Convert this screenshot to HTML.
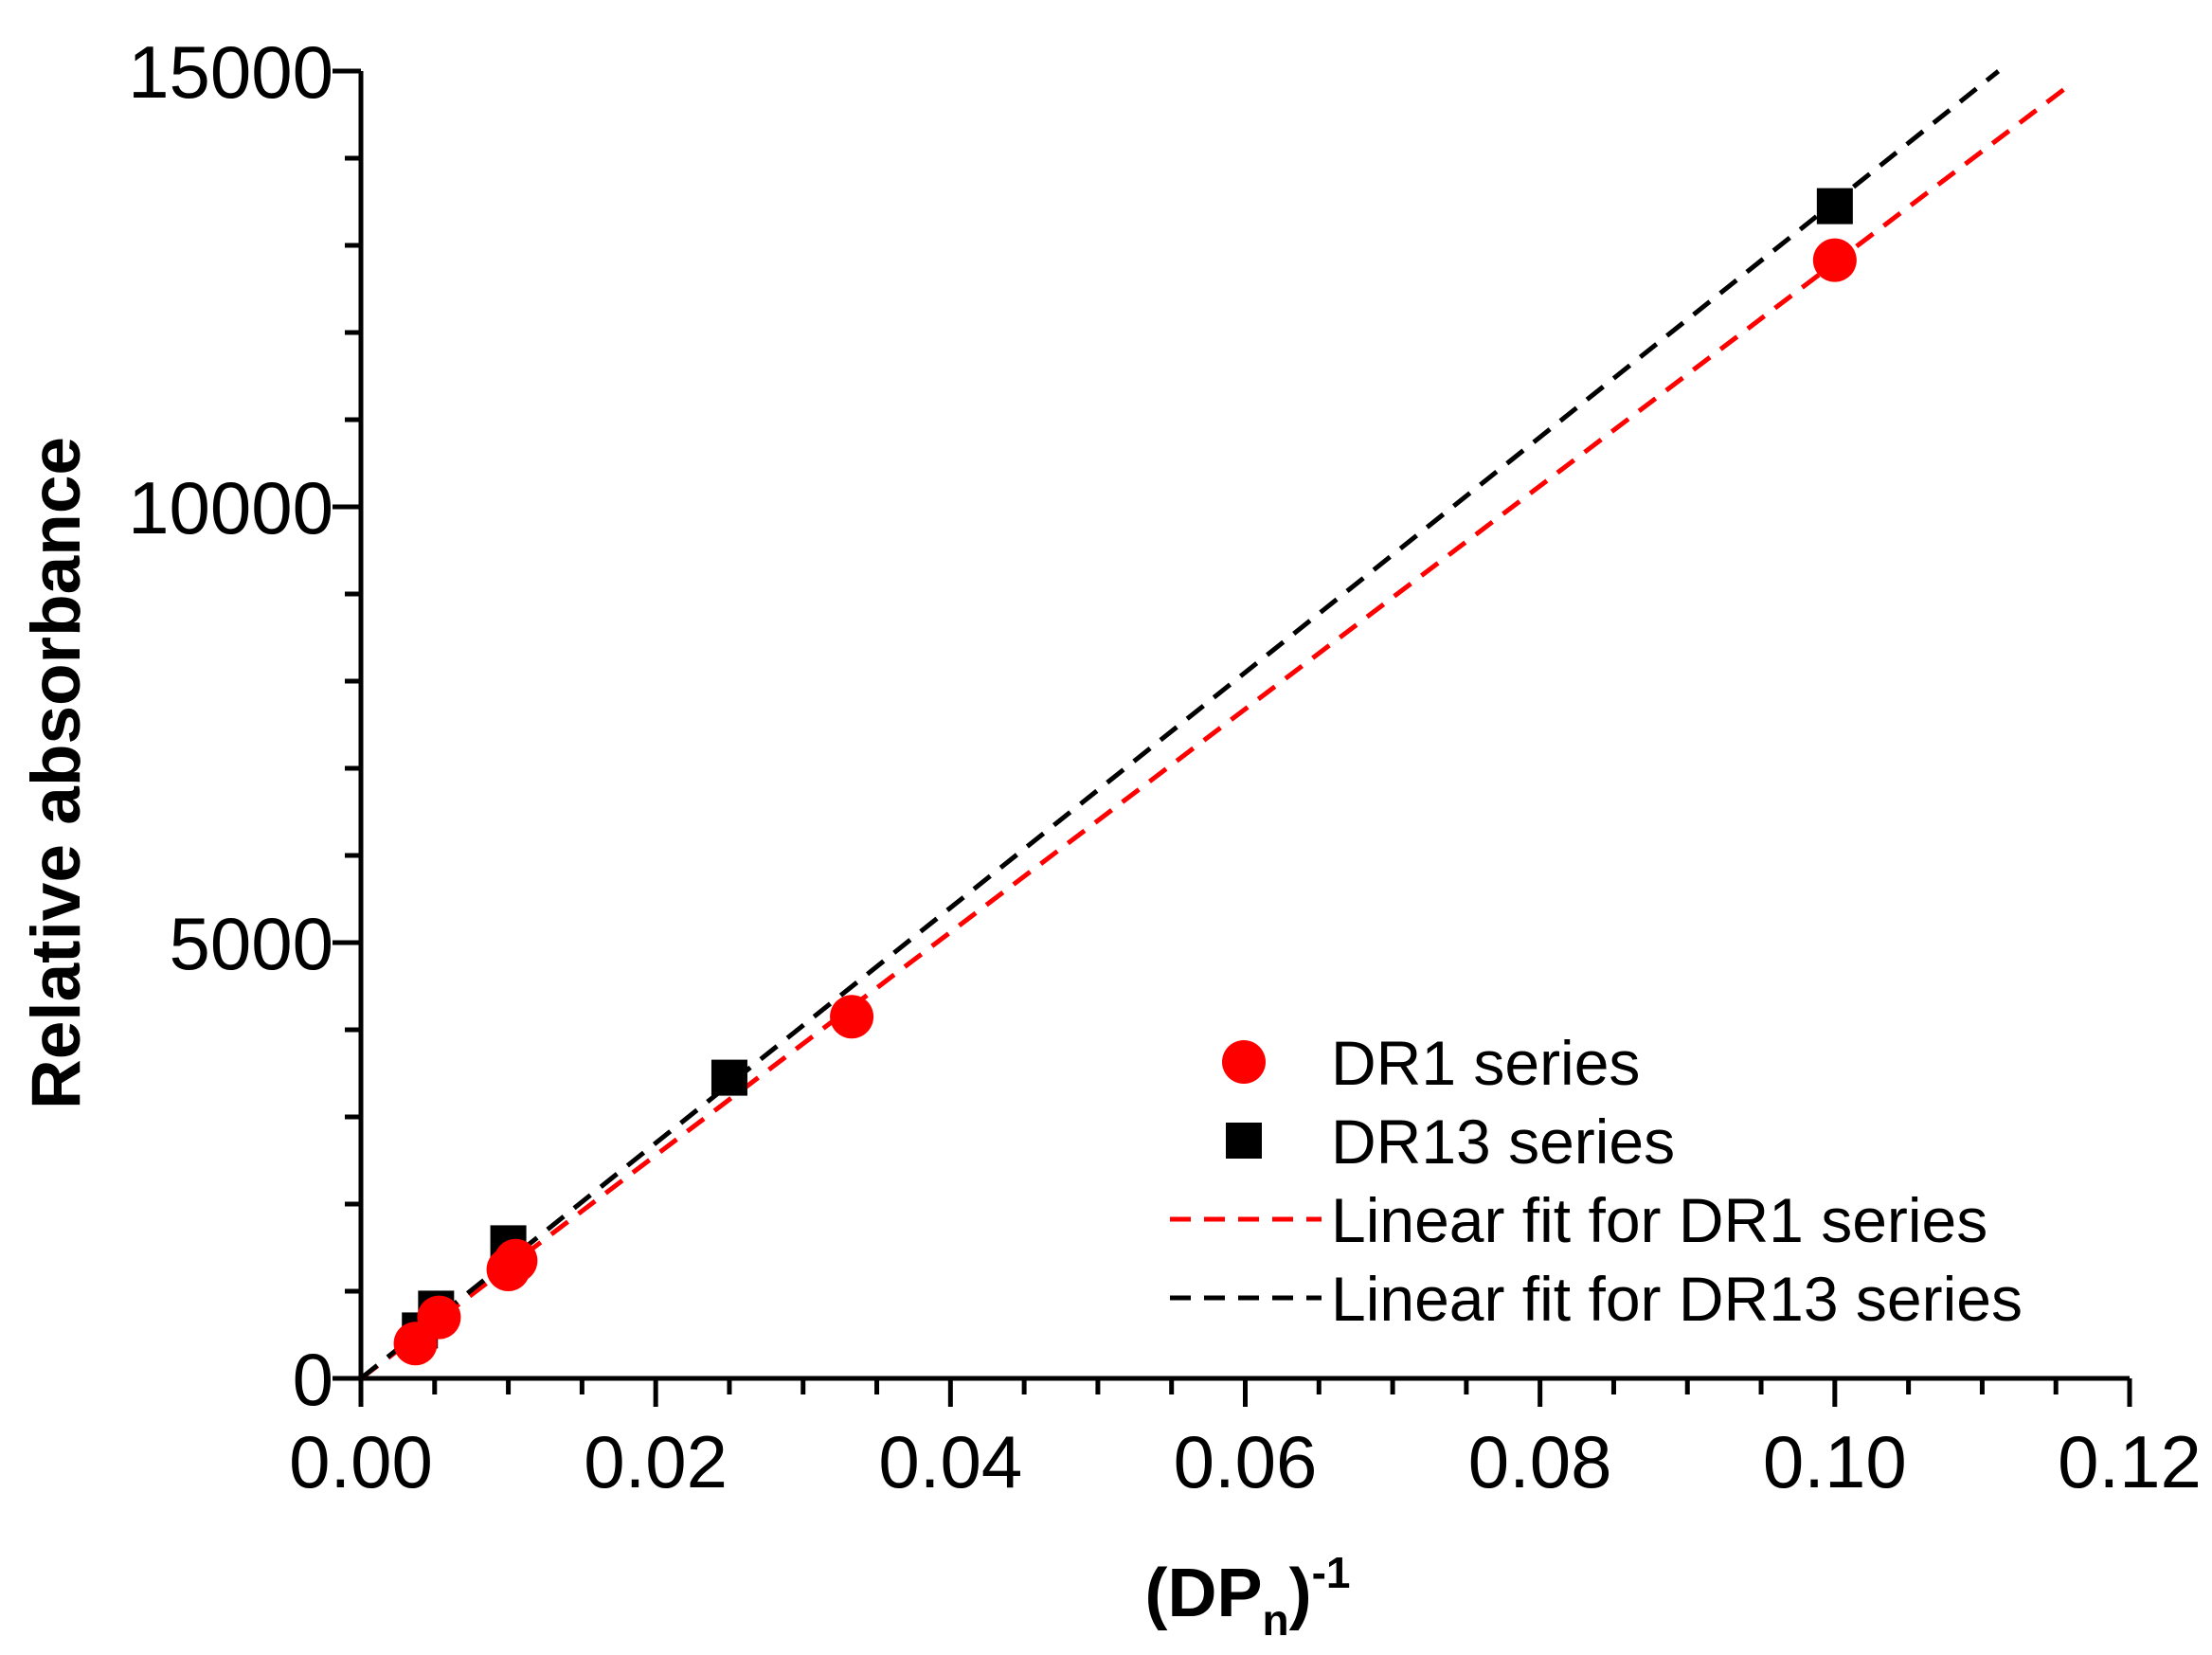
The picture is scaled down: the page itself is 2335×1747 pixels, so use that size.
<!DOCTYPE html>
<html><head><meta charset="utf-8"><style>
html,body{margin:0;padding:0;background:#fff}
svg{display:block}
text{font-family:"Liberation Sans",Arial,sans-serif}
</style></head><body>
<svg id="chart" width="2335" height="1747" viewBox="0 0 2335 1747" xmlns="http://www.w3.org/2000/svg">
<g id="axes"></g>
<g id="fits"></g>
<g id="marks"></g>
<text x="0" y="0" transform="translate(84,816) rotate(-90)" text-anchor="middle" font-size="73" font-weight="bold">Relative absorbance</text>
<text x="1317" y="1706" text-anchor="middle" font-size="72" font-weight="bold">(DP<tspan font-size="46" dy="20">n</tspan><tspan dy="-20">)</tspan><tspan font-size="46" dy="-30">-1</tspan></text>
<g>
  <circle cx="1313" cy="1121" r="23" fill="#ff0000"/>
  <text x="1405" y="1145" font-size="66">DR1 series</text>
  <rect x="1294" y="1185" width="38" height="38" fill="#000"/>
  <text x="1405" y="1228" font-size="66">DR13 series</text>
  <line x1="1235" y1="1287" x2="1395" y2="1287" stroke="#ff0000" stroke-width="5" stroke-dasharray="22,14"/>
  <text x="1405" y="1311" font-size="66">Linear fit for DR1 series</text>
  <line x1="1235" y1="1370" x2="1395" y2="1370" stroke="#000" stroke-width="5" stroke-dasharray="22,14"/>
  <text x="1405" y="1394" font-size="66">Linear fit for DR13 series</text>
</g>
</svg>
<script>
const xTicks = [0, 0.02, 0.04, 0.06, 0.08, 0.10, 0.12];
const xTickLabels = ["0.00","0.02","0.04","0.06","0.08","0.10","0.12"];
const yTicks = [0, 5000, 10000, 15000];
const yTickLabels = ["0","5000","10000","15000"];
const dr1X = [0.0037, 0.0053, 0.0100, 0.0105, 0.0333, 0.1000];
const dr1Y = [400, 700, 1250, 1350, 4150, 12830];
const dr13X = [0.0040, 0.0051, 0.0100, 0.0250, 0.1000];
const dr13Y = [550, 800, 1550, 3450, 13450];
const fitDR1 = [0, 128000];   // intercept, slope
const fitDR13 = [0, 135000];
const fitDR1XEnd = 0.116;
const fitDR13XEnd = 0.1111;

const NS = "http://www.w3.org/2000/svg";
const X0 = 381, X1 = 2248, Y0 = 1455, Y1 = 75;
function sx(v){ return X0 + (v - 0) / 0.12 * (X1 - X0); }
function sy(v){ return Y0 - v / 15000 * (Y0 - Y1); }
function mk(tag, attrs, parent){ const e = document.createElementNS(NS, tag); for (const k in attrs) e.setAttribute(k, attrs[k]); parent.appendChild(e); return e; }

const axes = document.getElementById('axes');
let l = mk('line', {x1:X0-2, y1:Y0, x2:X1, y2:Y0, stroke:'#000','stroke-width':5}, axes);


l = mk('line', {x1:X0, y1:Y0+2, x2:X0, y2:Y1, stroke:'#000','stroke-width':5}, axes);


for (let i = 0; i <= 24; i++) {
  const v = i * 0.005, major = i % 4 === 0;
  const t = mk('line', {x1:sx(v), y1:Y0, x2:sx(v), y2:Y0 + (major ? 30 : 17), stroke:'#000','stroke-width':5}, axes);
  
  
}
for (let i = 0; i <= 15; i++) {
  const v = i * 1000, major = i % 5 === 0;
  const t = mk('line', {x1:X0, y1:sy(v), x2:X0 - (major ? 30 : 17), y2:sy(v), stroke:'#000','stroke-width':5}, axes);
  
  
}
xTicks.forEach((v, i) => {
  const t = mk('text', {x:sx(v), y:1570, 'text-anchor':'middle','font-size':78}, axes);
  t.textContent = xTickLabels[i];
  
  
});
yTicks.forEach((v, i) => {
  const t = mk('text', {x:352, y:sy(v) + 28, 'text-anchor':'end','font-size':78}, axes);
  t.textContent = yTickLabels[i];
  
  
});

const fits = document.getElementById('fits');
l = mk('line', {x1:sx(0), y1:sy(fitDR1[0]), x2:sx(fitDR1XEnd), y2:sy(fitDR1[0] + fitDR1[1]*fitDR1XEnd), stroke:'#ff0000','stroke-width':5,'stroke-dasharray':'22,14'}, fits);


l = mk('line', {x1:sx(0), y1:sy(fitDR13[0]), x2:sx(fitDR13XEnd), y2:sy(fitDR13[0] + fitDR13[1]*fitDR13XEnd), stroke:'#000','stroke-width':5,'stroke-dasharray':'22,14'}, fits);



const marks = document.getElementById('marks');
dr13X.forEach((x, i) => {
  const r = mk('rect', {x:sx(x) - 19, y:sy(dr13Y[i]) - 19, width:38, height:38, fill:'#000'}, marks);
  
  
});
dr1X.forEach((x, i) => {
  const c = mk('circle', {cx:sx(x), cy:sy(dr1Y[i]), r:23, fill:'#ff0000'}, marks);
  
  
});
</script>
</body></html>
